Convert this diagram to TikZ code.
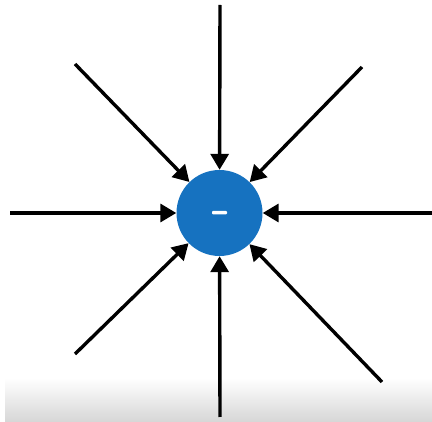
\documentclass[tikz,border=0pt]{standalone}
\usetikzlibrary{arrows.meta}
\definecolor{chargeblue}{RGB}{22,114,192}
\definecolor{bandgray}{RGB}{214,214,214}
\begin{document}
\begin{tikzpicture}[x=1pt,y=-1pt,
  arr/.style={line width=3.4pt,-{Triangle[length=16pt,width=18pt]}},
  charge/.style={circle,fill=chargeblue,minimum size=86pt,inner sep=0pt}]
\useasboundingbox (0,0) rectangle (432,422);
\shade[top color=white,bottom color=bandgray] (5,378) rectangle (432,422);
\node[charge] (c) at (219.5,213) {};
\fill[white,rounded corners=1pt] (212,211) rectangle (227,214.5);
\coordinate (n) at (220,5);
\coordinate (s) at (220,417);
\coordinate (w) at (10,213);
\coordinate (e) at (432,213);
\coordinate (nw) at (75,64);
\coordinate (ne) at (362,67);
\coordinate (sw) at (75,354);
\coordinate (se) at (382,382);
\foreach \p in {n,s,w,e,nw,ne,sw,se}{\draw[arr] (\p) -- (c);}
\end{tikzpicture}
\end{document}
